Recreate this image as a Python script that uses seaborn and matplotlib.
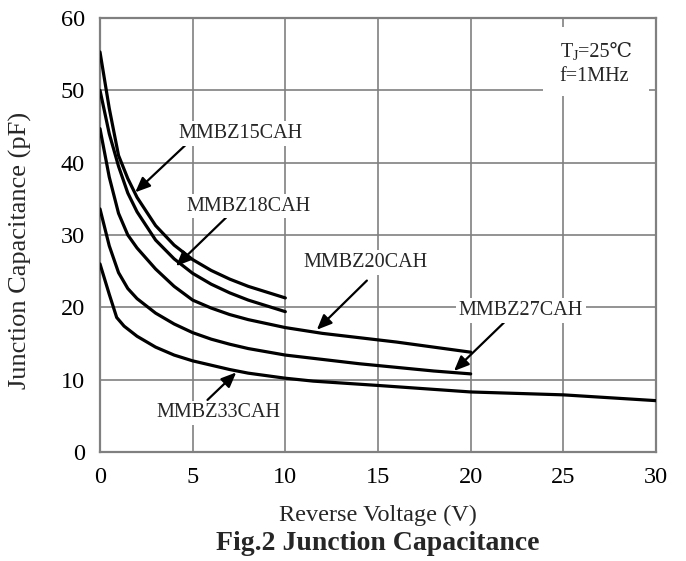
import matplotlib
matplotlib.use("Agg")
import matplotlib.pyplot as plt
from matplotlib.patches import Rectangle
import seaborn as sns
import pandas as pd

# ── data ─────────────────────────────────────────────────────────────────────
V_SHORT = [0, 0.5, 1, 1.5, 2, 3, 4, 5, 6, 7, 8, 9, 10]
C_15CAH = [55.3, 47.5, 41.0, 37.8, 35.2, 31.3, 28.6, 26.6, 25.1, 23.9, 22.9, 22.1, 21.3]
C_18CAH = [50.0, 44.0, 39.5, 35.8, 33.2, 29.3, 26.7, 24.7, 23.2, 22.0, 21.0, 20.2, 19.4]

V_MID = [0, 0.5, 1, 1.5, 2, 3, 4, 5, 6, 7, 8, 10, 12, 14, 16, 18, 20]
C_20CAH = [44.7, 38.0, 33.0, 30.0, 28.2, 25.3, 22.9, 21.0, 19.9, 19.0, 18.3,
           17.2, 16.4, 15.8, 15.2, 14.5, 13.8]
C_27CAH = [33.6, 28.5, 24.8, 22.6, 21.2, 19.2, 17.7, 16.5, 15.6, 14.9, 14.3,
           13.4, 12.8, 12.2, 11.7, 11.2, 10.8]

V_LONG = [0, 0.5, 0.9, 1.3, 2, 3, 4, 5, 6, 7, 8, 10, 11.5, 15, 20, 25, 30]
C_33CAH = [26.0, 21.8, 18.6, 17.4, 16.0, 14.5, 13.4, 12.6, 12.0, 11.4, 10.9,
           10.2, 9.8, 9.2, 8.3, 7.9, 7.1]

SERIES = ["MMBZ15CAH", "MMBZ18CAH", "MMBZ20CAH", "MMBZ27CAH", "MMBZ33CAH"]

# label centre, arrow start, arrow tip (data units)
LABEL_POS = [(7.6, 44.0), (8.0, 34.0), (14.3, 26.2), (22.7, 19.6), (6.4, 5.4)]
ARROW_FROM = [(4.6, 42.4), (6.8, 32.4), (14.4, 23.7), (21.8, 17.9), (5.8, 7.2)]
ARROW_TO = [(1.9, 35.9), (4.1, 25.7), (11.7, 16.9), (19.1, 11.2), (7.35, 11.0)]

X_TICKS = [0, 5, 10, 15, 20, 25, 30]
Y_TICKS = [0, 10, 20, 30, 40, 50, 60]

frames = [
    pd.DataFrame({"V": V_SHORT, "C": C_15CAH, "part": SERIES[0]}),
    pd.DataFrame({"V": V_SHORT, "C": C_18CAH, "part": SERIES[1]}),
    pd.DataFrame({"V": V_MID, "C": C_20CAH, "part": SERIES[2]}),
    pd.DataFrame({"V": V_MID, "C": C_27CAH, "part": SERIES[3]}),
    pd.DataFrame({"V": V_LONG, "C": C_33CAH, "part": SERIES[4]}),
]
df = pd.concat(frames, ignore_index=True)

GRAY = "#808080"
FONTS = ["Liberation Serif", "DejaVu Serif", "Noto Sans CJK SC"]

sns.set_theme(style="white")
plt.rcParams["font.family"] = FONTS
plt.rcParams["mathtext.fontset"] = "custom"
plt.rcParams["mathtext.rm"] = "Liberation Serif"

fig = plt.figure(figsize=(6.86, 5.61), dpi=100)
ax = fig.add_axes([100 / 686, 1 - 452 / 561, 556 / 686, 434 / 561])

for name in SERIES:
    sub = df[df["part"] == name]
    sns.lineplot(data=sub, x="V", y="C", color="black", linewidth=2.3,
                 ax=ax, legend=False, sort=False, zorder=3)

ax.set_xlim(0, 30)
ax.set_ylim(0, 60)
ax.set_xticks(X_TICKS)
ax.set_yticks(Y_TICKS)
ax.grid(True, color=GRAY, linewidth=1.2)
ax.set_axisbelow(True)
for spine in ax.spines.values():
    spine.set_edgecolor(GRAY)
    spine.set_linewidth(1.6)
ax.tick_params(length=0, labelsize=17.5, colors="black", pad=11)

ax.set_xlabel("Reverse Voltage (V)", fontsize=17.5, labelpad=12)
ax.set_ylabel("Junction Capacitance (pF)", fontsize=19)
ax.yaxis.set_label_coords(-0.123, 0.465)

for name, pos, a0, a1 in zip(SERIES, LABEL_POS, ARROW_FROM, ARROW_TO):
    ax.annotate("", xy=a1, xytext=a0,
                arrowprops=dict(arrowstyle="-|>,head_length=0.75,head_width=0.32",
                                color="black", lw=1.6, shrinkA=0, shrinkB=0),
                zorder=4)
    ax.text(pos[0], pos[1], name, fontsize=14.5, ha="center", va="center",
            bbox=dict(facecolor="white", edgecolor="none", pad=2), zorder=5)

# conditions box (white patch masks the grid like the original)
ax.add_patch(Rectangle((23.9, 49.2), 5.7, 9.6, facecolor="white",
                       edgecolor="none", zorder=4))
ax.text(24.8, 55.2, "T$_{\\rm J}$", fontsize=14.5, ha="left", va="center", zorder=5)
ax.annotate("=25℃", xy=(24.8, 55.2), xytext=(13.5, 0), textcoords="offset points",
            fontsize=14.5, ha="left", va="center", family=FONTS, zorder=5)
ax.text(24.8, 51.9, "f=1MHz", fontsize=14.5, ha="left", va="center", zorder=5)

fig.text(378 / 686, 1 - 543 / 561, "Fig.2 Junction Capacitance",
         fontsize=20, fontweight="bold", ha="center", va="center")

fig.savefig("out.png", dpi=100)
